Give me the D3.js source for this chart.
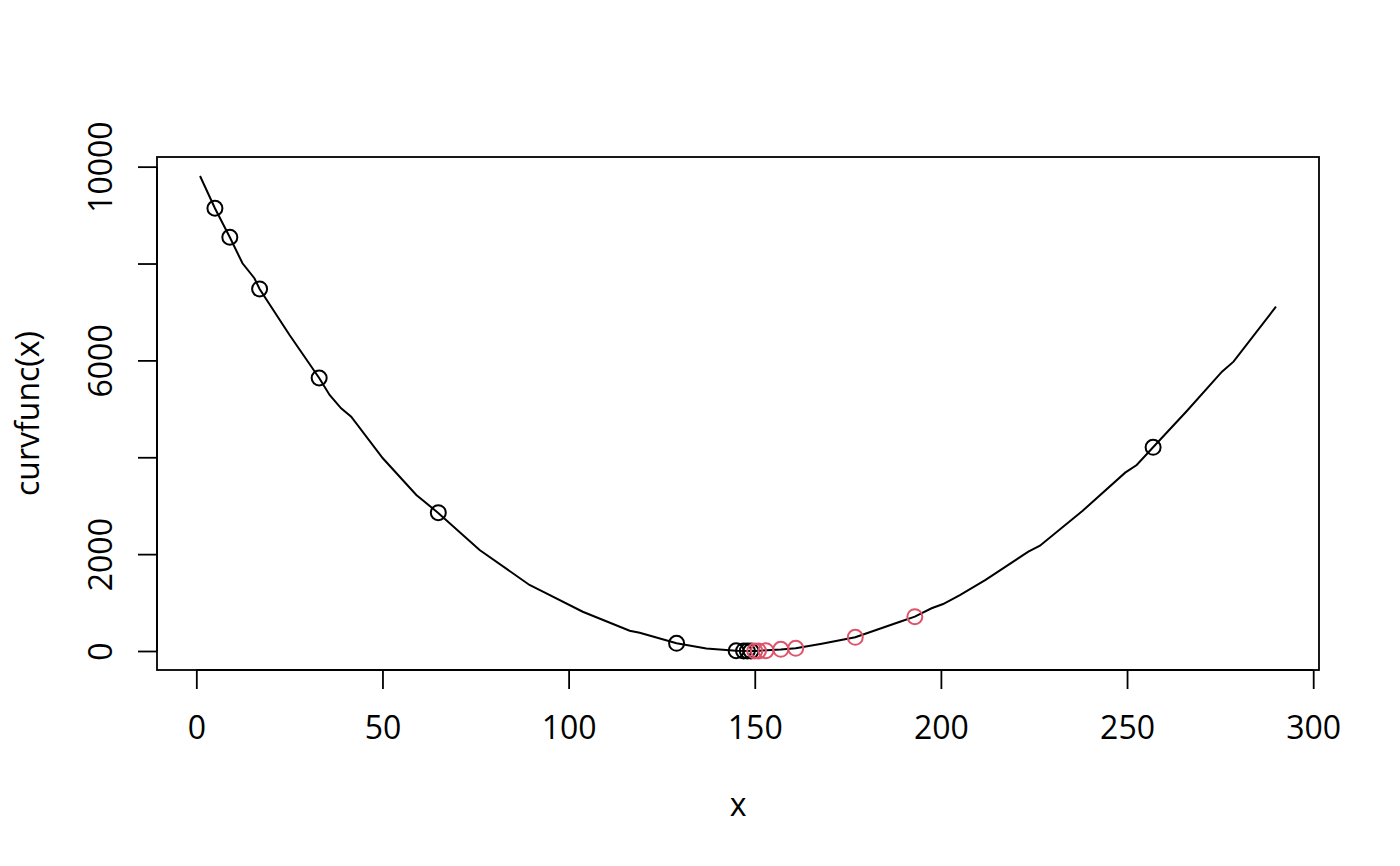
<!DOCTYPE html>
<html>
<head>
<meta charset="utf-8">
<script src="https://cdn.jsdelivr.net/npm/d3@7"></script>
<style>
  body { margin: 0; background: #fff; }
  text { font-family: "Open Sans", sans-serif; }
</style>
</head>
<body>
<svg id="chart" width="1400" height="866"></svg>
<script>
// curve
const curveX = [1, 5, 9, 12.4, 15.6, 17, 25, 33, 35.8, 38.9, 41.6, 50.1, 59.1, 64.9, 76.1, 89.5, 93.1, 103.8, 116.4, 119.1, 129, 137, 145, 150, 157, 161, 168, 177, 189, 193, 197.5, 200.6, 205.1, 212, 223.5, 226.6, 238, 249.5, 252.6, 257, 266, 275.5, 278.6, 290]
const curveY = [9807, 9141, 8542, 8005, 7696, 7475, 6530, 5637, 5286, 5011, 4838, 3979, 3221, 2856, 2085, 1363, 1224, 811, 419, 378, 159, 50, 5, 0, 30, 56, 150, 283, 605, 709, 882, 970, 1156, 1470, 2051, 2175, 2890, 3682, 3841, 4206, 4950, 5767, 5974, 7109]

// evaluated points
const blackX = [257, 129, 65, 33, 17, 9, 5, 145, 147, 148, 149]
const blackY = [4206, 159, 2856, 5637, 7475, 8542, 9141, 5, 1, 0, 0]
const redX = [193, 161, 177, 157, 153, 151, 150]
const redY = [709, 56, 283, 35, 6, 1, 0]

const xTicks = [0, 50, 100, 150, 200, 250, 300]
const yTicks = [0, 2000, 4000, 6000, 8000, 10000]
const yLabelled = [0, 2000, 6000, 10000]

const boxLeft = 157, boxRight = 1319, boxTop = 157, boxBottom = 670
const svg = d3.select('#chart')

// R style 4% padding on both axes
const padRange = ([a, b]) => [a - (b - a) * 0.04, b + (b - a) * 0.04]
const xScale = d3.scaleLinear().domain(padRange(d3.extent(curveX))).range([boxLeft, boxRight])
const yScale = d3.scaleLinear().domain(padRange(d3.extent(curveY))).range([boxBottom, boxTop])

const fontSize = '32px'

// x axis
const xAxis = d3.axisBottom(xScale).tickValues(xTicks).tickSize(19).tickSizeOuter(0)
const gx = svg.append('g').attr('transform', 'translate(0,' + boxBottom + ')').call(xAxis)
gx.select('.domain').remove()
gx.selectAll('.tick line').attr('stroke', '#000').attr('stroke-width', 1.8)
gx.selectAll('.tick text').attr('y', 69).attr('dy', null)
    .style('font-size', fontSize).attr('fill', '#000')
gx.append('line')
    .attr('x1', xScale(xTicks[0])).attr('x2', xScale(xTicks[xTicks.length - 1]))
    .attr('stroke', '#000').attr('stroke-width', 1.8)

// y axis
const yAxis = d3.axisLeft(yScale).tickValues(yTicks).tickSize(19).tickSizeOuter(0)
    .tickFormat(d => yLabelled.includes(d) ? d : '')
const gy = svg.append('g').attr('transform', 'translate(' + boxLeft + ',0)').call(yAxis)
gy.select('.domain').remove()
gy.selectAll('.tick line').attr('stroke', '#000').attr('stroke-width', 1.8)
gy.selectAll('.tick text').attr('x', null).attr('dy', null)
    .attr('text-anchor', 'middle')
    .attr('transform', 'translate(-45,0) rotate(-90)')
    .style('font-size', fontSize).attr('fill', '#000')
gy.append('line')
    .attr('y1', yScale(yTicks[0])).attr('y2', yScale(yTicks[yTicks.length - 1]))
    .attr('stroke', '#000').attr('stroke-width', 1.8)

// box
svg.append('rect')
    .attr('x', boxLeft).attr('y', boxTop)
    .attr('width', boxRight - boxLeft).attr('height', boxBottom - boxTop)
    .attr('fill', 'none').attr('stroke', '#000').attr('stroke-width', 1.8)

// curve
const line = d3.line().x(d => xScale(d[0])).y(d => yScale(d[1]))
svg.append('path')
    .datum(d3.zip(curveX, curveY))
    .attr('d', line)
    .attr('fill', 'none').attr('stroke', '#000').attr('stroke-width', 2)

const drawPoints = (xs, ys, colour) => {
    svg.append('g')
        .selectAll('circle')
        .data(d3.zip(xs, ys))
        .enter()
        .append('circle')
        .attr('cx', d => xScale(d[0]))
        .attr('cy', d => yScale(d[1]))
        .attr('r', 7.5)
        .attr('fill', 'none')
        .attr('stroke', colour)
        .attr('stroke-width', 2)
}
drawPoints(blackX, blackY, '#000')
drawPoints(redX, redY, '#DF536B')

// axis titles
svg.append('text')
    .attr('x', (boxLeft + boxRight) / 2).attr('y', 816)
    .attr('text-anchor', 'middle').style('font-size', fontSize)
    .text('x')
svg.append('text')
    .attr('transform', 'translate(39,' + (boxTop + boxBottom) / 2 + ') rotate(-90)')
    .attr('text-anchor', 'middle').style('font-size', fontSize)
    .text('curvfunc(x)')
</script>
</body>
</html>
